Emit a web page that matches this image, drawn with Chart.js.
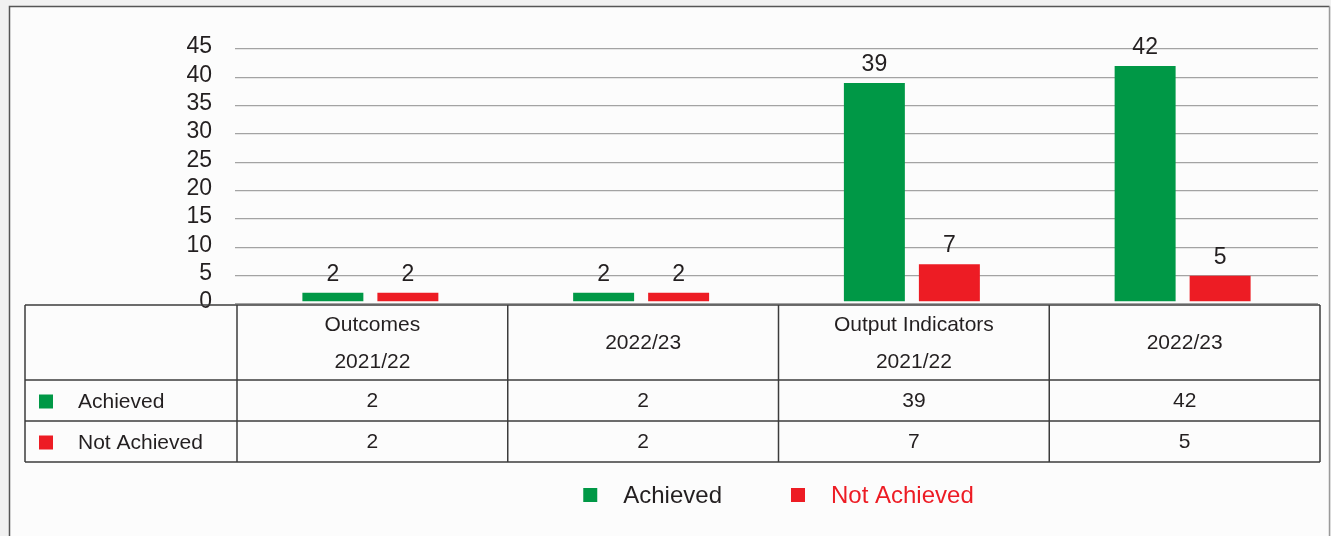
<!DOCTYPE html>
<html>
<head>
<meta charset="utf-8">
<script src="https://cdn.jsdelivr.net/npm/chart.js@4.4.1/dist/chart.umd.min.js"></script>
<style>
html, body { margin: 0; padding: 0; background: #f2f2f2; }
</style>
</head>
<body>
<canvas id="myChart" width="1331" height="536"></canvas>
<script>
var categories = [["Outcomes", "2021/22"], "2022/23", ["Output Indicators", "2021/22"], "2022/23"];
var achieved = [2, 2, 39, 42];
var notAchieved = [2, 2, 7, 5];
var seriesNames = ["Achieved", "Not Achieved"];
var barColors = ["#009846", "#ed1c24"];
var yMax = 45;
var yStep = 5;

var textColor = "#231f20";
var fontFamily = "'Liberation Sans', Arial, Helvetica, sans-serif";

// frame, data labels, data table and legend are drawn here
const tablePlugin = {
    id: "tablePlugin",
    beforeDraw(chart) {
        const ctx = chart.ctx;
        ctx.save();
        ctx.fillStyle = "#f1f1f1";
        ctx.fillRect(0, 0, chart.width, chart.height);
        ctx.fillStyle = "#fcfcfc";
        ctx.fillRect(9.5, 6.5, 1320, 540);
        ctx.lineWidth = 1.5;
        ctx.strokeStyle = "#555";
        ctx.beginPath();
        ctx.moveTo(9.5, 540);
        ctx.lineTo(9.5, 6.5);
        ctx.lineTo(1329.5, 6.5);
        ctx.stroke();
        ctx.strokeStyle = "#9a9a9a";
        ctx.beginPath();
        ctx.moveTo(1329.5, 6.5);
        ctx.lineTo(1329.5, 540);
        ctx.stroke();
        ctx.restore();
    },
    afterDatasetsDraw(chart) {
        const ctx = chart.ctx;
        ctx.save();
        ctx.font = "23px " + fontFamily;
        ctx.fillStyle = textColor;
        ctx.textAlign = "center";
        ctx.textBaseline = "alphabetic";
        chart.data.datasets.forEach(function (ds, d) {
            chart.getDatasetMeta(d).data.forEach(function (bar, i) {
                let top = chart.scales.y.getPixelForValue(ds.data[i]);
                ctx.fillText(String(ds.data[i]), bar.x, top - 12);
            });
        });
        ctx.restore();
    },
    afterDraw(chart) {
        const ctx = chart.ctx;
        const xs = chart.scales.x;
        const area = chart.chartArea;
        const shift = 2;
        const half = (xs.getPixelForValue(1) - xs.getPixelForValue(0)) / 2;
        const left = 25;
        const top = area.bottom + 1;
        const headH = 75, rowH = 41;
        const right = area.right + shift;
        const bottom = top + headH + rowH * 2;

        ctx.save();
        ctx.strokeStyle = "#3c3c3c";
        ctx.lineWidth = 1.5;
        ctx.beginPath();
        [top, top + headH, top + headH + rowH, bottom].forEach(function (y) {
            ctx.moveTo(left, y);
            ctx.lineTo(right, y);
        });
        ctx.moveTo(left, top);
        ctx.lineTo(left, bottom);
        for (let i = 0; i < categories.length; i++) {
            let bx = xs.getPixelForValue(i) - half + shift;
            ctx.moveTo(bx, top);
            ctx.lineTo(bx, bottom);
        }
        ctx.moveTo(right, top);
        ctx.lineTo(right, bottom);
        ctx.stroke();

        ctx.font = "21px " + fontFamily;
        ctx.fillStyle = textColor;
        ctx.textAlign = "center";
        ctx.textBaseline = "middle";
        // header
        categories.forEach(function (c, i) {
            let cx = xs.getPixelForValue(i) + shift;
            let lines = Array.isArray(c) ? c : [c];
            let cy = top + headH / 2 + 1;
            if (lines.length === 2) {
                ctx.fillText(lines[0], cx, cy - 18);
                ctx.fillText(lines[1], cx, cy + 19);
            } else {
                ctx.fillText(lines[0], cx, cy);
            }
        });
        // rows
        chart.data.datasets.forEach(function (ds, d) {
            let cy = top + headH + rowH * d + rowH / 2 + 1;
            ctx.fillStyle = barColors[d];
            ctx.fillRect(39, cy - 7, 14, 14);
            ctx.fillStyle = textColor;
            ctx.textAlign = "left";
            ctx.fillText(ds.label, 78, cy + 1);
            ctx.textAlign = "center";
            ds.data.forEach(function (v, i) {
                ctx.fillText(String(v), xs.getPixelForValue(i) + shift, cy);
            });
        });

        // legend
        ctx.font = "24px " + fontFamily;
        const box = 14, gapText = 26, gapItem = 69;
        let widths = seriesNames.map(function (n) { return ctx.measureText(n).width; });
        let total = box * 2 + gapText * 2 + widths[0] + widths[1] + gapItem;
        let lx = (area.left + area.right) / 2 + shift - total / 2;
        let ly = 495;
        ctx.textAlign = "left";
        seriesNames.forEach(function (n, k) {
            ctx.fillStyle = barColors[k];
            ctx.fillRect(lx, ly - 7, box, box);
            ctx.fillStyle = k === 1 ? barColors[1] : textColor;
            ctx.fillText(n, lx + box + gapText, ly + 1);
            lx += box + gapText + widths[k] + gapItem;
        });
        ctx.restore();
    }
};

new Chart("myChart", {
    type: "bar",
    data: {
        labels: categories,
        datasets: [{
            label: seriesNames[0],
            data: achieved,
            backgroundColor: barColors[0],
            base: 0.5
        }, {
            label: seriesNames[1],
            data: notAchieved,
            backgroundColor: barColors[1],
            base: 0.5
        }]
    },
    options: {
        responsive: false,
        animation: false,
        categoryPercentage: 0.554,
        barPercentage: 0.813,
        layout: {
            padding: { top: 49, left: 0, right: 13, bottom: 232 }
        },
        scales: {
            x: {
                display: false
            },
            y: {
                min: 0,
                max: yMax,
                afterFit: function (scale) { scale.width = 235; },
                border: { display: false },
                grid: { color: "#a3a3a3", lineWidth: 1.3, drawTicks: false },
                ticks: {
                    stepSize: yStep,
                    autoSkip: false,
                    padding: 23,
                    labelOffset: -2,
                    color: textColor,
                    font: { family: fontFamily, size: 23 }
                }
            }
        },
        plugins: {
            legend: { display: false },
            tooltip: { enabled: false }
        }
    },
    plugins: [tablePlugin]
});
</script>
</body>
</html>
